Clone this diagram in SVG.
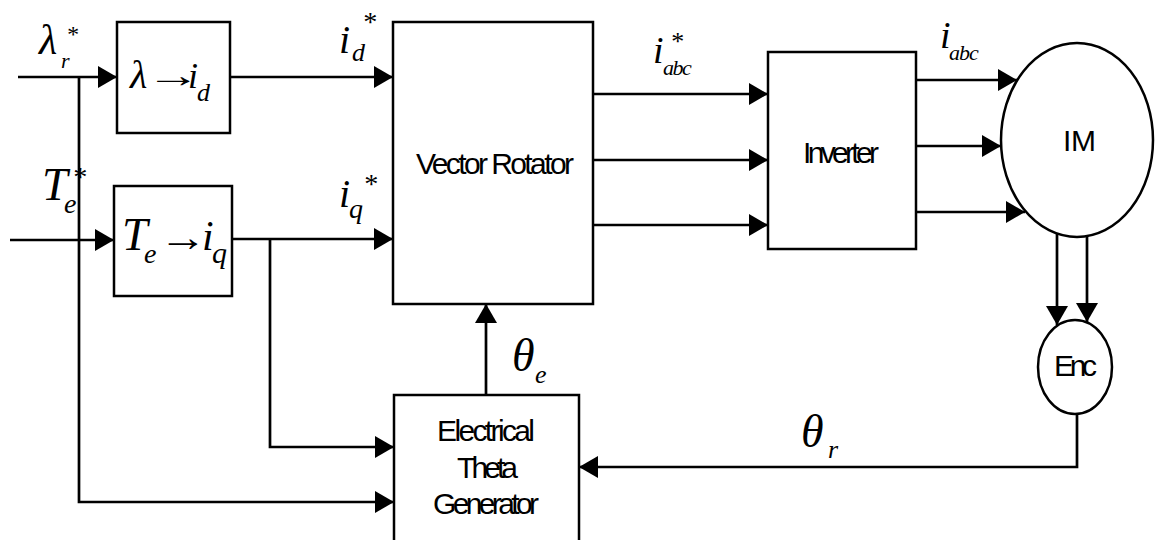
<svg xmlns="http://www.w3.org/2000/svg" width="1156" height="540" viewBox="0 0 1156 540">
<style>
.box{fill:#fff;stroke:#000;stroke-width:2.5}
.ln{fill:none;stroke:#000;stroke-width:2.7}
.arr{marker-end:url(#ah)}
.lbl{font-family:"Liberation Sans",Arial,sans-serif;font-size:30px;fill:#000}
.m{font-family:"Liberation Serif","Times New Roman",serif;font-style:italic;fill:#000}
</style>
<defs>
<marker id="ah" viewBox="0 0 19 22" refX="19" refY="11" markerWidth="19" markerHeight="22" markerUnits="userSpaceOnUse" orient="auto">
<path d="M0,0 L19,11 L0,22 Z" fill="#000"/>
</marker>
</defs>
<rect width="1156" height="540" fill="#fff"/>

<g id="connectors">
<path class="ln arr" d="M18,77 H117"/>
<path class="ln arr" d="M79,77 V502 H394"/>
<path class="ln arr" d="M230,77 H393"/>
<path class="ln arr" d="M10,240 H114"/>
<path class="ln arr" d="M232,239 H393"/>
<path class="ln arr" d="M270,239 V447 H394"/>
<path class="ln arr" d="M486,395 V304"/>
<path class="ln arr" d="M593,94 H768"/>
<path class="ln arr" d="M593,160 H768"/>
<path class="ln arr" d="M593,225 H768"/>
<path class="ln arr" d="M916,80 H1017"/>
<path class="ln arr" d="M916,146 H1001"/>
<path class="ln arr" d="M916,212 H1025"/>
<path class="ln arr" d="M1057,234 V325"/>
<path class="ln arr" d="M1087,236 V322"/>
<path class="ln arr" d="M1077,414 V467 H579"/>
</g>

<g id="labels">
<text class="m" x="39" y="54" font-size="42">λ<tspan x="61" y="68" font-size="22">r</tspan><tspan x="66" y="42" font-size="24">*</tspan></text>
<text class="m" x="339" y="53" font-size="40">i<tspan x="352" y="61" font-size="26">d</tspan><tspan x="362" y="31" font-size="28">*</tspan></text>
<text class="m" x="42" y="200" font-size="46">T<tspan x="64" y="213" font-size="28">e</tspan><tspan x="72" y="186" font-size="28">*</tspan></text>
<text class="m" x="339" y="207" font-size="40">i<tspan x="349" y="218" font-size="28">q</tspan><tspan x="363" y="193" font-size="28">*</tspan></text>
<text class="m" x="653" y="63" font-size="38">i<tspan x="663" y="75" font-size="22" letter-spacing="-1.5">abc</tspan><tspan x="670" y="50" font-size="26">*</tspan></text>
<text class="m" x="940" y="48" font-size="38">i<tspan x="949" y="60" font-size="22" letter-spacing="-1">abc</tspan></text>
<text class="m" x="512" y="371" font-size="46">θ<tspan x="535" y="383" font-size="26">e</tspan></text>
<text class="m" x="801" y="447" font-size="46">θ<tspan x="828" y="458" font-size="26">r</tspan></text>
</g>

<g id="lambda-to-id">
<rect class="box" x="117" y="22" width="113" height="111"/>
<text class="m" x="130" y="88" font-size="40">λ</text>
<text class="m" font-size="34" transform="translate(146,87) scale(1.6,1)">→</text>
<text class="m" x="188" y="88" font-size="36">i<tspan x="197" y="101" font-size="26">d</tspan></text>
</g>

<g id="te-to-iq">
<rect class="box" x="114" y="186" width="118" height="110"/>
<text class="m" x="122" y="250" font-size="46">T<tspan x="144" y="263" font-size="28">e</tspan></text>
<text class="m" font-size="40" transform="translate(159,251) scale(1.2,1)">→</text>
<text class="m" x="202" y="250" font-size="42">i<tspan x="212" y="263" font-size="30">q</tspan></text>
</g>

<g id="vector-rotator">
<rect class="box" x="393" y="22" width="200" height="282"/>
<text class="lbl" x="416" y="174" textLength="158">Vector Rotator</text>
</g>

<g id="inverter">
<rect class="box" x="768" y="52" width="148" height="197"/>
<text class="lbl" x="803" y="163" textLength="76">Inverter</text>
</g>

<g id="im">
<ellipse class="box" cx="1077" cy="140" rx="76" ry="97"/>
<text class="lbl" x="1063" y="151" textLength="33">IM</text>
</g>

<g id="enc">
<ellipse class="box" cx="1075" cy="367" rx="37" ry="47"/>
<text class="lbl" x="1054" y="376" font-size="28" textLength="43">Enc</text>
</g>

<g id="theta-generator">
<rect class="box" x="394" y="395" width="185" height="150"/>
<text class="lbl" x="437" y="441" textLength="98">Electrical</text>
<text class="lbl" x="457" y="478" textLength="61">Theta</text>
<text class="lbl" x="433" y="514" textLength="106">Generator</text>
</g>
</svg>
